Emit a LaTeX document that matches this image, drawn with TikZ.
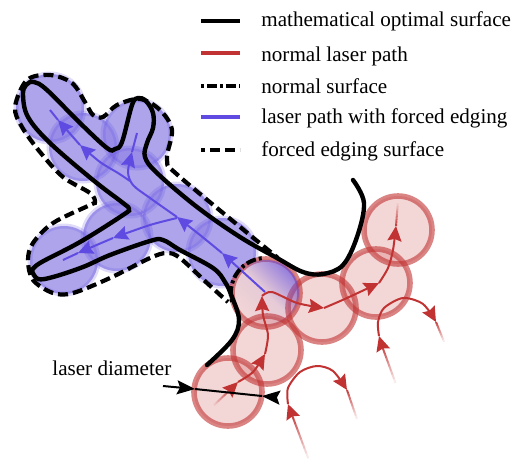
\documentclass[tikz,border=0pt]{standalone}
\usepackage{fontspec}
\setmainfont{Liberation Serif}
\usetikzlibrary{arrows.meta,calc,fadings}
\definecolor{laserred}{RGB}{193,50,50}
\definecolor{laserblue}{RGB}{95,75,225}
\definecolor{spotbase}{RGB}{200,195,239}
\tikzfading[name=fadeup, bottom color=transparent!100, top color=transparent!35, middle color=transparent!92]
% fading tail of a laser path, drawn in short pieces
\newcommand{\lasertail}[3]{%
  \foreach \t [evaluate=\t as \u using \t+0.1] in {0,0.1,...,0.95}
    \draw[laserpath=#1, -, draw opacity=\t] ($(#2)!\t!(#3)$) -- ($(#2)!\u!(#3)$);
}
\begin{document}
\begin{tikzpicture}[
    x=0.5pt, y=-0.5pt,
    every node/.style={font=\fontsize{10.55}{12}\selectfont, inner sep=0pt},
    redspot/.style={draw=laserred, fill=laserred, draw opacity=0.6, fill opacity=0.2, line width=2.8pt},
    bluespot/.style={draw=laserblue, fill=laserblue, draw opacity=0.2, fill opacity=0.25, line width=2.5pt},
    optimal/.style={line width=2.2pt, line cap=round},
    edging/.style={line width=2.1pt, dash pattern=on 5pt off 2.5pt, dash phase=3pt},
    normal/.style={line width=2pt, dash pattern=on 5pt off 1.5pt on 1.5pt off 1.5pt, dash phase=6.5pt},
    laserpath/.style={color=#1, line width=1pt, -{Stealth[length=7.5pt,width=7pt,inset=1pt]}},
    redpath/.style={laserpath=laserred},
    bluepath/.style={laserpath=laserblue},
    legred/.style={color=laserred, line width=1.8pt},
    legblue/.style={color=laserblue, line width=1.8pt},
    measure/.style={line width=1pt}
]
\useasboundingbox (0,0) rectangle (516,463);

% laser spots
\foreach \p in {(50,108),(83,147),(137,134),(130,182),(177,218),(222,252),(117,237),(64,260)}
    \fill[spotbase] \p circle [radius=34];
\foreach \p in {(50,108),(83,147),(137,134),(130,182),(177,218),(222,252),(117,237),(64,260)}
    \path[bluespot] \p circle [radius=34];
\fill[white] (266,293) circle [radius=34];
\foreach \p in {(228,392),(267,350),(266,293),(322,308),(376,283),(398,230)}
    \path[redspot] \p circle [radius=34];
\fill[laserblue, path fading=fadeup, fading angle=-45] (266,293) circle [radius=33];

% blue laser path
\draw[bluepath] plot[smooth] coordinates {(265,292) (243,272) (222,253)};
\draw[bluepath] plot[smooth] coordinates {(222,253) (200,235) (177,217)};
\draw[bluepath] plot[smooth] coordinates {(177,217) (150,198) (133,185) (128,172) (132,152)};
\draw[laserblue, line width=1pt] (132,152) -- (137,133);
\draw[bluepath] plot[smooth] coordinates {(130,181) (118,173) (100,162) (80,145)};
\draw[bluepath] (80,145) -- (58,120);
\draw[laserblue, line width=1pt] (58,120) -- (50,110);
\draw[bluepath] plot[smooth] coordinates {(177,218) (150,225) (113,238)};
\draw[bluepath] (113,238) -- (78,253);
\draw[laserblue, line width=1pt] (78,253) -- (63,260);

% red laser paths
\coordinate (ra) at (212,407);
\coordinate (rb) at (232,388);
\lasertail{laserred}{ra}{rb}
\draw[redpath] (rb) -- (238,382);
\draw[redpath] plot[smooth] coordinates {(238,382) (253,372) (265,354)};
\draw[redpath] plot[smooth] coordinates {(265,354) (268,335) (263,315) (262,296)};
\draw[redpath] plot[smooth] coordinates {(262,296) (272,292) (297,303) (324,308)};
\draw[redpath] plot[smooth] coordinates {(324,308) (347,298) (379,283)};
\draw[redpath] plot[smooth] coordinates {(379,283) (388,268) (393,250) (396,226)};
\coordinate (rc) at (396,226);
\coordinate (rd) at (398,201);
\lasertail{laserred}{rd}{rc}

\coordinate (la) at (397,387);
\coordinate (lb) at (382,346);
\lasertail{laserred}{la}{lb}
\draw[redpath] (lb) -- (379,336);
\draw[redpath] plot[smooth] coordinates {(379,336) (378,322) (384,308) (403,298) (423,304) (436,322)};
\coordinate (lc) at (436,322);
\coordinate (ld) at (445,344);
\lasertail{laserred}{ld}{lc}

\coordinate (ba) at (310,463);
\coordinate (bb) at (292,415);
\lasertail{laserred}{ba}{bb}
\draw[redpath] (bb) -- (288,404);
\draw[redpath] plot[smooth] coordinates {(288,404) (288,388) (300,372) (317,366) (333,371) (347,390)};
\coordinate (be) at (347,390);
\coordinate (bf) at (358,422);
\lasertail{laserred}{bf}{be}

% surfaces
\draw[optimal] plot[smooth, tension=0.6] coordinates {(207,365) (232,340) (239,320) (232,297) (225,282) (213,268)
    (180,250) (163,240) (150,241) (110,255) (83,267) (53,277) (38,279) (32,271)};
\draw[optimal] plot[smooth, tension=0.6] coordinates {(32,271) (40,263) (80,242) (123,215) (129,209) (123,203)
    (93,180) (50,143) (28,117) (23,95) (26,85) (34,82) (47,90) (80,123) (107,148) (115,149) (122,142) (132,105)
    (138,98) (146,101) (153,113) (153,128) (147,143) (145,157) (157,173) (197,207) (240,237) (277,258) (303,272)
    (323,274) (343,265) (357,237) (364,203) (353,180)};
\draw[edging] plot[smooth, tension=0.55] coordinates {(278,258) (180,177) (167,160) (172,130) (160,110) (140,99)
    (117,105) (103,117) (93,115) (85,102) (72,83) (50,75) (27,80) (15,107) (22,127) (40,152) (63,177) (90,193)
    (95,202) (90,205) (53,223) (33,243) (28,260) (33,280) (53,293) (73,293) (110,278) (150,258) (167,253)
    (180,258) (207,283) (228,302)};
\draw[normal] (232,302) arc [start angle=165, end angle=268, radius=35];

% laser diameter
\node (diam) [anchor=base west] at (52,375) {laser diameter};
\coordinate (da) at (163,386);
\coordinate (db) at (195,389);
\coordinate (dc) at (262,396);
\coordinate (dd) at (273,397);
\draw[measure, -{Stealth[length=9pt,width=7pt,inset=1.5pt]}] (da) -- (db);
\draw[measure, -{Stealth[length=9pt,width=7pt,inset=1.5pt]}] (dd) -- (dc);
\draw[measure] (db) -- (dc);

% legend
\foreach \i/\y/\b/\sty/\txt in {1/21/26/optimal/mathematical optimal surface,
    2/53/61/legred/normal laser path, 3/86/93/normal/normal surface,
    4/117/123/legblue/laser path with forced edging, 5/150/156/edging/forced edging surface} {
    \node (leg\i) [anchor=base west] at (261,\b) {\txt};
    \coordinate (lega\i) at (201,\y);
    \coordinate (legb\i) at (240,\y);
    \draw[\sty, line cap=butt] (lega\i) -- (legb\i);
}
\end{tikzpicture}
\end{document}
